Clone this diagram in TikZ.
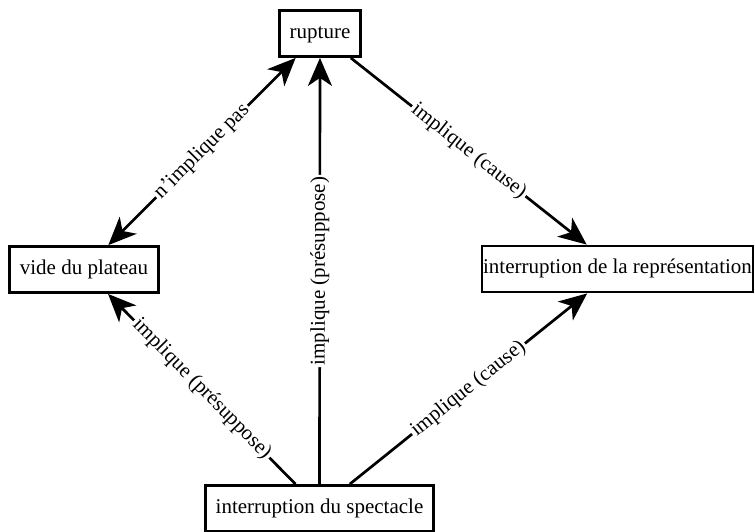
\documentclass[tikz,border=0pt]{standalone}
\usepackage{fontspec}
\setmainfont{Liberation Serif}
\usetikzlibrary{arrows.meta}
\begin{document}
\begin{tikzpicture}[x=1pt,y=1pt,
  txt/.style={font=\fontsize{21}{24}\selectfont},
  box/.style={txt, draw, line width=2.8pt, inner xsep=10pt, minimum height=46pt, text height=14pt, text depth=5pt},
  conn/.style={line width=2.7pt, -{Stealth[length=28pt,width=24pt,inset=8pt]}},
  dconn/.style={line width=2.7pt, {Stealth[length=28pt,width=24pt,inset=8pt]}-{Stealth[length=28pt,width=24pt,inset=8pt]}},
  lab/.style={txt, sloped, fill=white, inner sep=2pt, midway}]
\useasboundingbox (0,0) rectangle (755,-531);
\node[box] (r) at (320,-33.5) {rupture};
\node[box] (v) at (84,-269.5) {vide du plateau};
\node[box, minimum width=271pt, inner xsep=1pt] (p) at (617.5,-269) {interruption de la représentation};
\node[box, minimum width=225pt] (s) at (319.5,-508.5) {interruption du spectacle};
\draw[dconn] (v) -- node[lab] {n’implique pas} (r);
\draw[conn] (r) -- node[lab] {implique (cause)} (p);
\draw[conn] (s) -- node[lab] {implique (présuppose)} (r);
\draw[conn] (s) -- node[lab] {implique (présuppose)} (v);
\draw[conn] (s) -- node[lab] {implique (cause)} (p);
\end{tikzpicture}
\end{document}
